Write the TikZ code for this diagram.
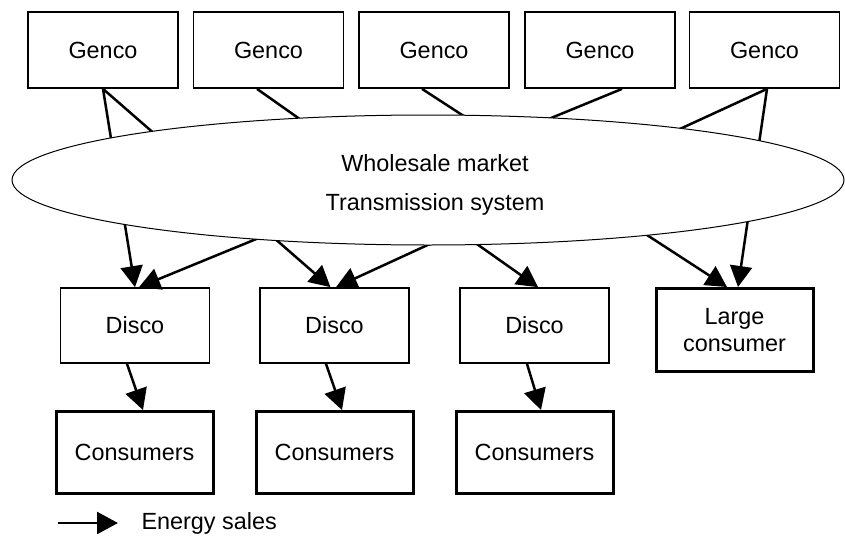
\documentclass[tikz,border=0pt]{standalone}
\usepackage{fontspec}
\setmainfont{Liberation Sans}
\usetikzlibrary{arrows.meta,shapes.geometric}
\begin{document}
\begin{tikzpicture}[x=1pt,y=-1pt,
  txt/.style={font=\fontsize{23.4}{27}\selectfont},
  gencobox/.style={draw, line width=1.8pt, minimum width=150pt, minimum height=76pt, inner sep=0pt, txt},
  discobox/.style={draw, line width=1.7pt, minimum width=149pt, minimum height=75pt, inner sep=0pt, txt},
  consbox/.style={draw, line width=3pt, minimum width=157pt, minimum height=82pt, inner sep=0pt, txt},
  sale/.style={line width=2.5pt, -{Triangle[length=21pt,width=22pt]}}
]
\useasboundingbox (0,0) rectangle (845,538);
% nodes
\node[gencobox] (g1) at (103,50) {Genco};
\node[gencobox] (g2) at (268.5,50) {Genco};
\node[gencobox] (g3) at (434,50) {Genco};
\node[gencobox] (g4) at (600,50) {Genco};
\node[gencobox] (g5) at (764.5,50) {Genco};
\node[discobox] (d1) at (135,325.5) {Disco};
\node[discobox] (d2) at (334.5,325.5) {Disco};
\node[discobox] (d3) at (534.5,325.5) {Disco};
\node[consbox, minimum height=83pt, align=center] (lc) at (734.5,330) {Large\\consumer};
\node[consbox] (c1) at (134.5,452.5) {Consumers};
\node[consbox] (c2) at (334.5,452.5) {Consumers};
\node[consbox] (c3) at (534.5,452.5) {Consumers};
% energy sales through the market
\draw[sale] (g1.south) -- ([xshift=0pt]d1.north);
\draw[sale] (g1.south) -- ([xshift=-4pt]d2.north);
\draw[sale] ([xshift=-11.5pt]g2.south) -- ([xshift=3.5pt]d3.north);
\draw[sale] ([xshift=-12pt]g3.south) -- ([xshift=-7.5pt]lc.north);
\draw[sale] ([xshift=22pt]g4.south) -- ([xshift=4pt]d1.north);
\draw[sale] ([xshift=2.5pt]g5.south) -- ([xshift=1.5pt]d2.north);
\draw[sale] ([xshift=2.5pt]g5.south) -- ([xshift=3.5pt]lc.north);
% market ellipse on top
\node[draw, fill=white, ellipse, line width=1pt, minimum width=832pt, minimum height=130pt, inner sep=0pt] (wm) at (428,180) {};
\node[txt, align=center, font=\fontsize{23.4}{39}\selectfont] (wmt) at (435,185) {Wholesale market\\Transmission system};
% disco to consumers
\draw[sale] ([xshift=-8pt]d1.south) -- ([xshift=8.5pt]c1.north);
\draw[sale] ([xshift=-8.5pt]d2.south) -- ([xshift=7.5pt]c2.north);
\draw[sale] ([xshift=-7.5pt]d3.south) -- ([xshift=6.5pt]c3.north);
% legend
\coordinate (la) at (58,523);
\coordinate (lb) at (118,523);
\draw[sale] (la) -- (lb);
\node[txt, anchor=west] (lt) at (138,523) {Energy sales};
\end{tikzpicture}
\end{document}
